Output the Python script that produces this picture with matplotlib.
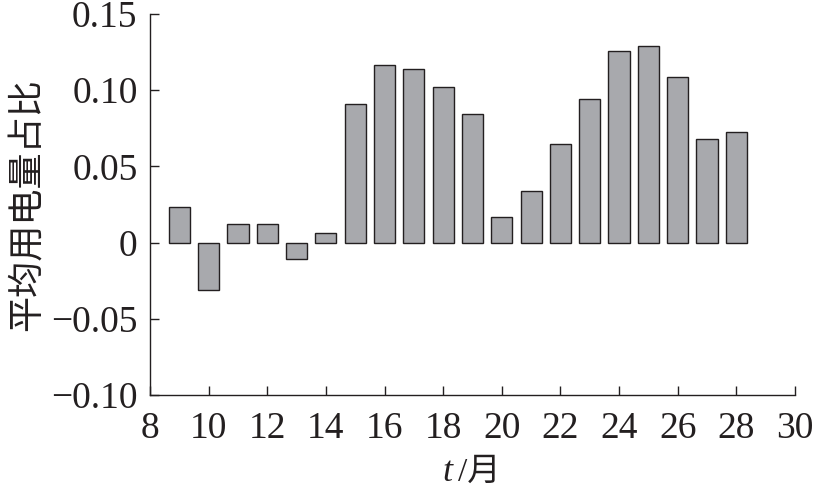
import matplotlib
matplotlib.use("Agg")
import matplotlib.pyplot as plt

months = [9, 10, 11, 12, 13, 14, 15, 16, 17, 18, 19, 20, 21, 22, 23, 24, 25, 26, 27, 28]
ratios = [0.0233, -0.0310, 0.0125, 0.0125, -0.0109, 0.0066, 0.0907, 0.1163, 0.1137,
          0.1018, 0.0841, 0.0171, 0.0342, 0.0650, 0.0940, 0.1255, 0.1290, 0.1084,
          0.0677, 0.0729]
xticks = [8, 10, 12, 14, 16, 18, 20, 22, 24, 26, 28, 30]
yticks = [-0.10, -0.05, 0, 0.05, 0.10, 0.15]
ytick_labels = ["\u22120.10", "\u22120.05", "0", "0.05", "0.10", "0.15"]
ylabel = '平均用电量占比'
xlabel_var = 't'
xlabel_unit = '/月'

plt.rcParams['font.family'] = ['Liberation Serif', 'Noto Sans CJK SC']

fig = plt.figure(figsize=(8.17, 4.92), dpi=100)
ax = fig.add_axes([0.1836, 0.197, 0.7894, 0.7745])

ax.bar(months, ratios, width=0.72, color='#a8a9ad', edgecolor='#231f20', linewidth=1.0, zorder=2)

ax.set_xlim(8, 30)
ax.set_ylim(-0.10, 0.15)
ax.set_xticks(xticks)
ax.set_yticks(yticks)
ax.set_yticklabels(ytick_labels)

for s in ['top', 'right']:
    ax.spines[s].set_visible(False)
for s in ['left', 'bottom']:
    ax.spines[s].set_linewidth(1.0)
    ax.spines[s].set_color('#231f20')

ax.tick_params(axis='both', direction='in', length=6.7, width=1.0, color='#231f20',
               labelsize=27, labelcolor='#231f20')
ax.tick_params(axis='y', pad=9)
ax.tick_params(axis='x', pad=12)

ax.set_ylabel(ylabel, family=['Noto Sans CJK SC'], fontsize=26, color='#231f20', labelpad=4)

ax.text(0.469, -0.226, xlabel_var, transform=ax.transAxes, ha='right', va='baseline',
        family=['Liberation Serif'], style='italic', fontsize=26, color='#231f20')
ax.text(0.477, -0.226, xlabel_unit, transform=ax.transAxes, ha='left', va='baseline',
        family=['Liberation Serif', 'Noto Sans CJK SC'], fontsize=24, color='#231f20')

fig.savefig('out.png', dpi=100)
